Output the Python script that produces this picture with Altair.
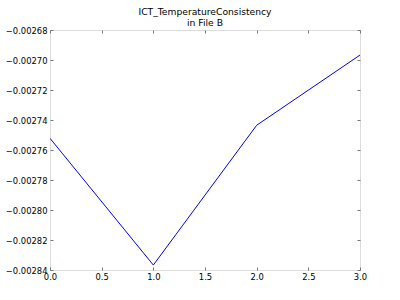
import altair as alt
import pandas as pd

x_vals = [0, 1, 2, 3]
y_vals = [-0.0027522, -0.0028367, -0.0027435, -0.0026967]
y_ticks = [-0.00284, -0.00282, -0.00280, -0.00278, -0.00276, -0.00274, -0.00272, -0.00270, -0.00268]
x_ticks = [0.0, 0.5, 1.0, 1.5, 2.0, 2.5, 3.0]

df = pd.DataFrame({"x": x_vals, "y": y_vals})

FONT = "DejaVu Sans"
LBL = 8.4
xs = alt.Scale(domain=[0, 3], nice=False, zero=False)
ys = alt.Scale(domain=[-0.00284, -0.00268], nice=False, zero=False)

main = alt.Chart(df).mark_line(color="#0000ff", strokeWidth=1, clip=True).encode(
    x=alt.X("x:Q", scale=xs, title=None,
            axis=alt.Axis(values=x_ticks, format=".1f", domain=False, grid=False,
                          tickSize=3, offset=-3, tickColor="#777", labelPadding=2,
                          labelFont=FONT, labelFontSize=LBL, labelColor="black",
                          labelFlush=False, labelOverlap=False)),
    y=alt.Y("y:Q", scale=ys, title=None,
            axis=alt.Axis(values=y_ticks, domain=False, grid=False,
                          labelExpr="replace(format(datum.value, '.5f'), '-', '\u2212')",
                          tickSize=3, offset=-3, tickColor="#777", labelPadding=3,
                          labelFont=FONT, labelFontSize=LBL, labelColor="black",
                          labelFlush=False, labelOverlap=False)),
)

mirror = alt.Chart(df).mark_line(opacity=0).encode(
    x=alt.X("x:Q", scale=xs, title=None,
            axis=alt.Axis(orient="top", values=x_ticks, labels=False, domain=False, grid=False,
                          tickSize=3, offset=-3, tickColor="#777")),
    y=alt.Y("y:Q", scale=ys, title=None,
            axis=alt.Axis(orient="right", values=y_ticks, labels=False, domain=False, grid=False,
                          tickSize=3, offset=-3, tickColor="#777")),
)

chart = alt.layer(main, mirror).resolve_axis(x="independent", y="independent").properties(
    width=310,
    height=240,
    title=alt.TitleParams(["ICT_TemperatureConsistency", "in File B"], font=FONT, fontSize=9.2,
                          fontWeight="normal", color="black", anchor="middle", offset=-2,
                          lineHeight=11),
    autosize=alt.AutoSizeParams(type="none"),
    padding={"left": 50, "top": 30, "right": 40, "bottom": 30},
).configure_view(stroke="#8a8a8a", strokeWidth=2).configure(background="white")

chart.save("out.html", embed_options={"renderer": "svg", "actions": False})
